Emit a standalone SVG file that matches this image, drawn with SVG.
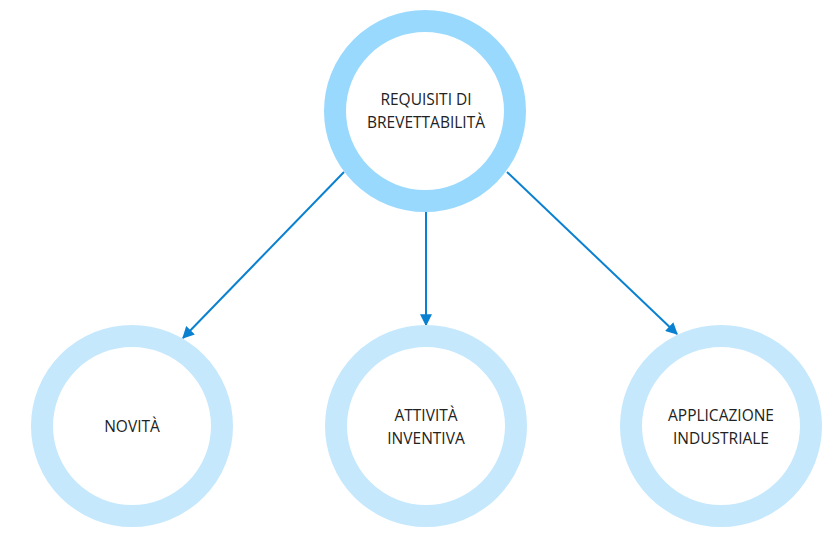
<svg xmlns="http://www.w3.org/2000/svg" width="834" height="549" viewBox="0 0 834 549">
<style>
.ring-top{fill:#fff;stroke:#9ad9fe;stroke-width:22}
.ring{fill:#fff;stroke:#c5e8fd;stroke-width:22}
.lbl{font-family:"Open Sans","Noto Sans",sans-serif;font-size:15.5px;fill:#222;text-anchor:middle}
.conn{stroke:#0a80d0;stroke-width:2;fill:none;marker-end:url(#ah)}
</style>
<defs>
<marker id="ah" viewBox="0 0 10 10" refX="9" refY="5" markerWidth="6" markerHeight="6" orient="auto" markerUnits="strokeWidth">
<path d="M0,0 L10,5 L0,10 z" fill="#0a80d0"/>
</marker>
</defs>
<g id="connectors">
<line class="conn" x1="344" y1="172" x2="183" y2="338"/>
<line class="conn" x1="426" y1="212" x2="426" y2="325"/>
<line class="conn" x1="507" y1="172" x2="677" y2="334"/>
</g>
<g id="requisiti">
<circle class="ring-top" cx="425" cy="111" r="90"/>
<text class="lbl" x="426" y="105">REQUISITI DI</text>
<text class="lbl" x="426" y="128">BREVETTABILITÀ</text>
</g>
<g id="novita">
<circle class="ring" cx="132" cy="426" r="90"/>
<text class="lbl" x="132" y="432">NOVITÀ</text>
</g>
<g id="attivita">
<circle class="ring" cx="426" cy="426" r="90"/>
<text class="lbl" x="426" y="421">ATTIVITÀ</text>
<text class="lbl" x="426" y="444">INVENTIVA</text>
</g>
<g id="applicazione">
<circle class="ring" cx="721" cy="426" r="90"/>
<text class="lbl" x="721" y="421">APPLICAZIONE</text>
<text class="lbl" x="721" y="444">INDUSTRIALE</text>
</g>
</svg>
